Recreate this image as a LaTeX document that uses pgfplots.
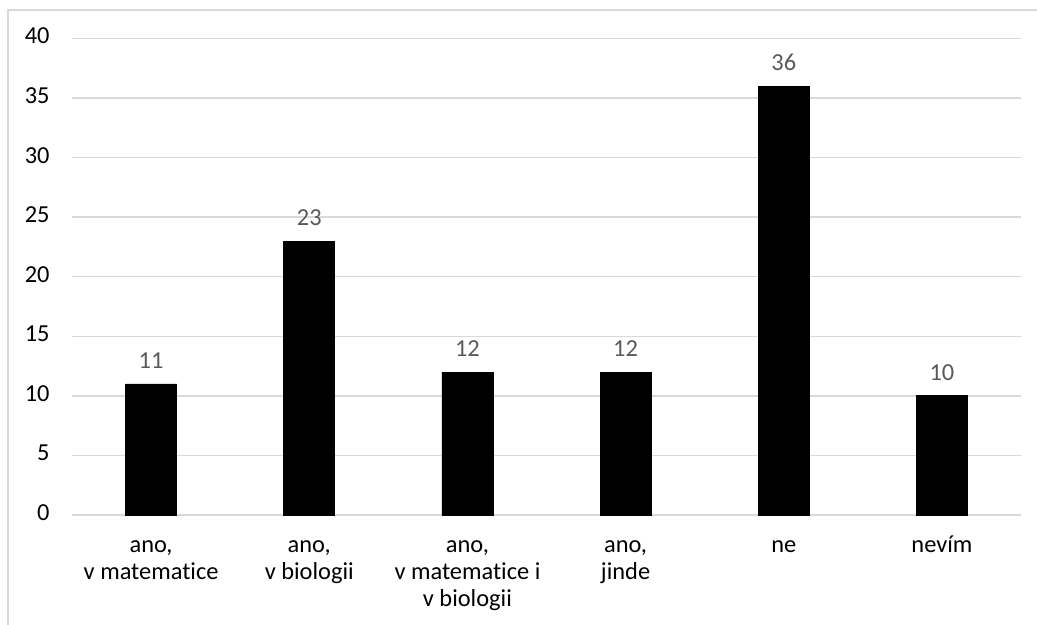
\documentclass[border=0pt]{standalone}
\usepackage{fontspec}
\setmainfont{Carlito}[Ligatures=NoCommon]
\usepackage{pgfplots}
\pgfplotsset{compat=1.18}
\definecolor{gridc}{HTML}{D9D9D9}
\definecolor{lblc}{HTML}{595959}
\begin{document}
\begin{tikzpicture}[x=1pt,y=1pt]
\useasboundingbox (0,0) rectangle (518.5,312.5);
\draw[gridc, line width=0.7pt] (4,0) -- (4,307.5) -- (518.5,307.5);
\begin{axis}[
  at={(36pt,55pt)}, anchor=south west,
  scale only axis,
  width=474.5pt, height=238.25pt,
  ymin=0, ymax=40, ytick={0,5,...,40},
  xmin=-0.5, xmax=5.5,
  xtick=data,
  xticklabels={{ano,\\v matematice},{ano,\\v biologii},{ano,\\v matematice i\\v biologii},{ano,\\jinde},{ne},{nevím}},
  typeset ticklabels with strut,
  axis line style={draw=none},
  major tick length=0pt,
  ymajorgrids, grid style={gridc, line width=0.7pt},
  /pgf/number format/assume math mode=true,
  yticklabel style={font=\fontsize{12.2}{13.5}\selectfont, text=black, inner sep=0pt, anchor=east, xshift=-11pt},
  xticklabel style={font=\fontsize{12.2}{13.5}\selectfont, text=black, inner sep=0pt, anchor=north, yshift=-9pt, align=center},
  ybar, bar width=25.5pt,
  nodes near coords,
  every node near coord/.append style={font=\fontsize{12.2}{13.5}\selectfont, text=lblc, yshift=4pt},
  clip=false,
]
\addplot[fill=black, draw=black] coordinates {(0,11) (1,23) (2,12) (3,12) (4,36) (5,10)};
\end{axis}
\end{tikzpicture}
\end{document}
